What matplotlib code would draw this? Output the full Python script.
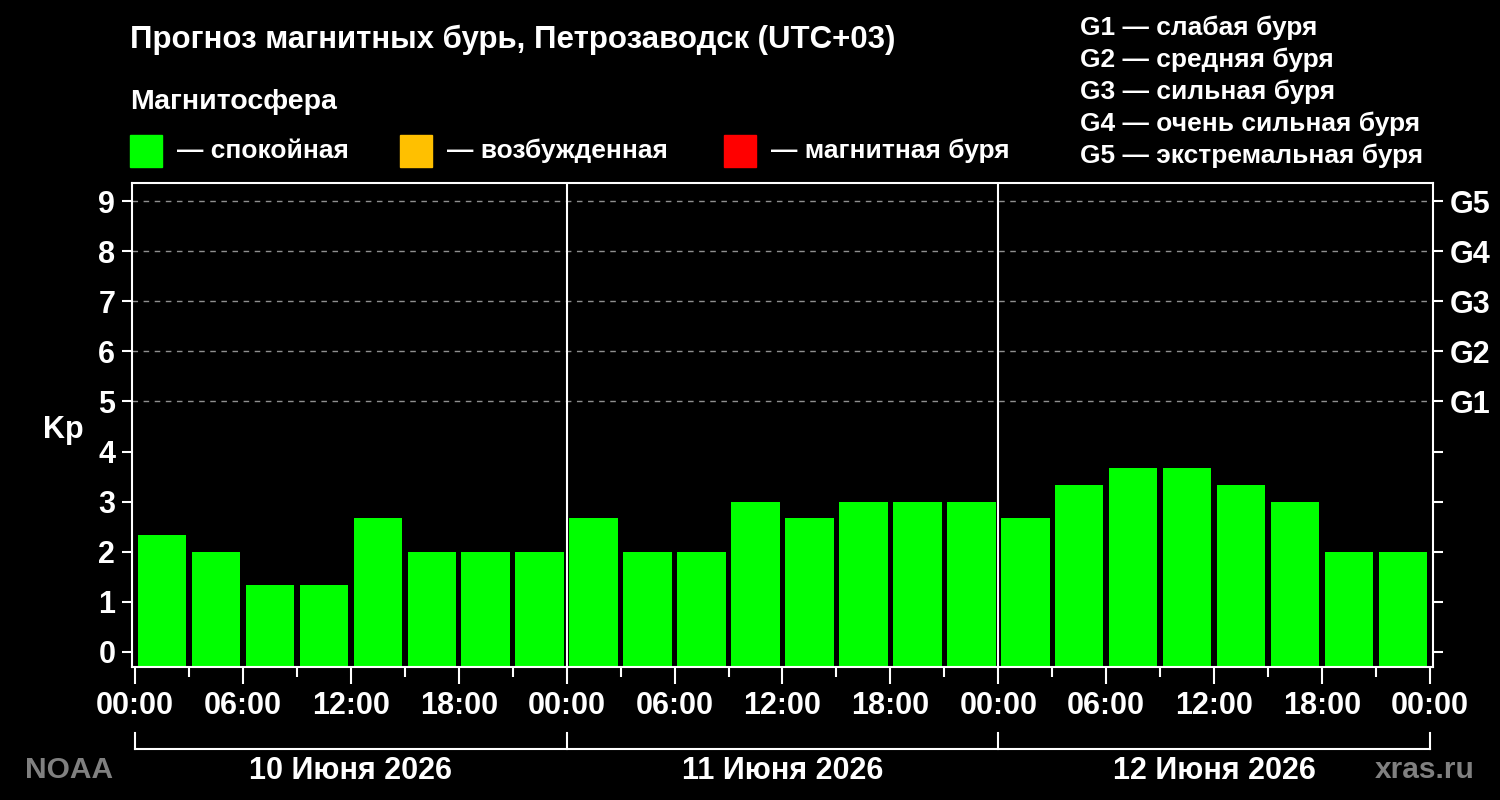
import numpy as np
import matplotlib
matplotlib.use("Agg")
import matplotlib.pyplot as plt

plt.rcParams['font.family'] = ['Liberation Sans', 'DejaVu Sans']
plt.rcParams['font.weight'] = 'bold'

# forecast Kp, 3-hour intervals, three days
kp_day1 = [2.33, 2.0, 1.33, 1.33, 2.67, 2.0, 2.0, 2.0]
kp_day2 = [2.67, 2.0, 2.0, 3.0, 2.67, 3.0, 3.0, 3.0]
kp_day3 = [2.67, 3.33, 3.67, 3.67, 3.33, 3.0, 2.0, 2.0]
days = ['10 Июня 2026', '11 Июня 2026', '12 Июня 2026']
g_levels = [5, 6, 7, 8, 9]
g_labels = ['G1', 'G2', 'G3', 'G4', 'G5']
g_legend = ['G1 — слабая буря', 'G2 — средняя буря', 'G3 — сильная буря',
            'G4 — очень сильная буря', 'G5 — экстремальная буря']
state_colors = ['#00ff00', '#ffc000', '#ff0000']
state_names = ['— спокойная', '— возбужденная', '— магнитная буря']

kp = np.array(kp_day1 + kp_day2 + kp_day3)
hours = np.arange(len(kp)) * 3 + 1.5
colors = [state_colors[0] if v < 4 else state_colors[1] if v < 5 else state_colors[2] for v in kp]

fig = plt.figure(figsize=(15, 8), dpi=100, facecolor='black')
ax = fig.add_axes([0.088, 0.16625, 0.8673, 0.605])
ax.set_facecolor('black')
ymin, ymax = -0.3, 9.36
ax.set_xlim(-0.17, 72.17)
ax.set_ylim(ymin, ymax)

ax.bar(hours, kp - ymin, bottom=ymin, width=2.7, color=colors, zorder=2)

for g in g_levels:
    ax.axhline(g, color='#909090', lw=1, ls=(0, (4, 4)), zorder=1)
for d in range(1, len(days)):
    ax.axvline(d * 24, color='white', lw=1.5, zorder=3)

for s in ax.spines.values():
    s.set_color('white')
    s.set_linewidth(1.5)

ax.set_yticks(range(10))
ax.tick_params(axis='y', colors='white', labelsize=22, length=7, width=1.5, pad=5)
ax.set_xticks(range(0, 73, 6))
ax.set_xticklabels([f'{h % 24:02d}:00' for h in range(0, 73, 6)])
ax.set_xticks(range(3, 73, 6), minor=True)
ax.tick_params(axis='x', which='major', colors='white', labelsize=22, length=12, width=1.5, pad=5)
ax.tick_params(axis='x', which='minor', colors='white', length=7, width=1.5)
ax.set_ylabel('Kp', color='white', fontsize=22, fontweight='bold', rotation=0,
              labelpad=30, va='center')
ax.yaxis.set_label_coords(-0.053, 0.49)

ax2 = ax.twinx()
ax2.set_ylim(ymin, ymax)
ax2.set_yticks(range(10))
ax2.set_yticklabels(['' if i not in g_levels else g_labels[g_levels.index(i)] for i in range(10)])
ax2.tick_params(axis='y', colors='white', labelsize=22, length=7, width=1.5, pad=5)
for s in ax2.spines.values():
    s.set_visible(False)

# day brackets under the time axis
tr = ax.get_xaxis_transform()
ax.plot([0, 72], [-0.1694, -0.1694], color='white', lw=1.5, transform=tr, clip_on=False)
for d in range(len(days) + 1):
    ax.plot([d * 24, d * 24], [-0.1694, -0.136], color='white', lw=1.5, transform=tr, clip_on=False)
for i, name in enumerate(days):
    ax.text(i * 24 + 12, -0.215, name, color='white', fontsize=22, ha='center', va='center',
            transform=tr)

fig.text(0.087, 0.95, 'Прогноз магнитных бурь, Петрозаводск (UTC+03)', color='white',
         fontsize=22.5, va='center')
fig.text(0.087, 0.873, 'Магнитосфера', color='white', fontsize=20.5, va='center')
sq_x = [130, 400, 724]
for x, c, name in zip(sq_x, state_colors, state_names):
    fig.patches.append(plt.Rectangle((x / 1500, 633 / 800), 32 / 1500, 32 / 800,
                                     transform=fig.transFigure, color=c))
    fig.text((x + 47) / 1500, 1 - 151 / 800, name, color='white', fontsize=19, va='center')
for i, line in enumerate(g_legend):
    fig.text(1080 / 1500, 1 - (28 + 32 * i) / 800, line, color='white', fontsize=19, va='center')

fig.text(25 / 1500, 1 - 770 / 800, 'NOAA', color='#808080', fontsize=21.5, va='center')
fig.text(1475 / 1500, 1 - 770 / 800, 'xras.ru', color='#808080', fontsize=21.5, va='center', ha='right')

fig.savefig('out.png', dpi=100, facecolor='black')
